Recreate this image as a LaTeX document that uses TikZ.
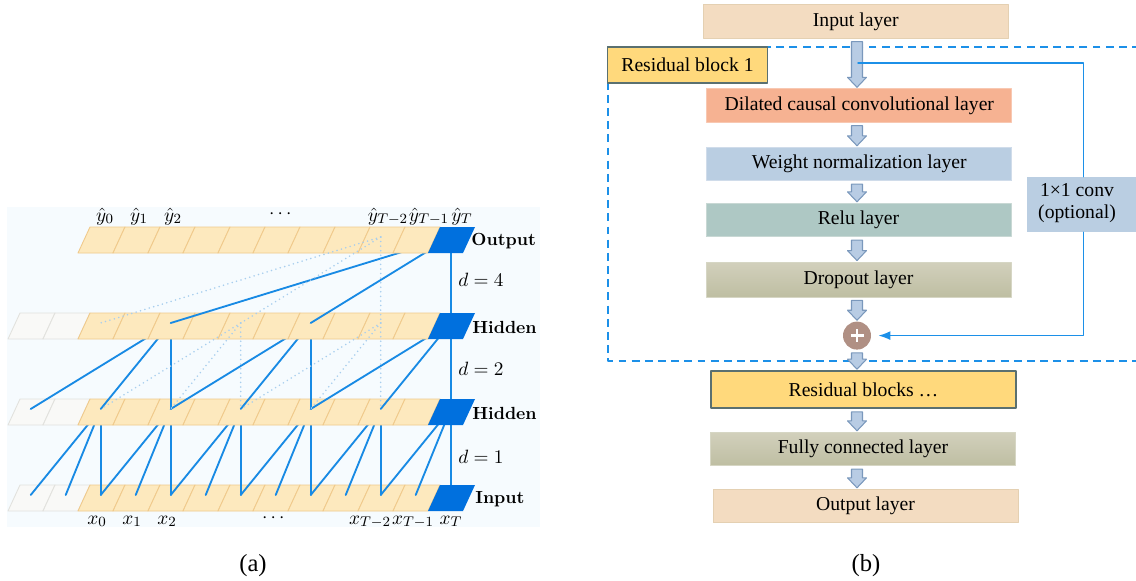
\documentclass[tikz,border=0pt]{standalone}
\usepackage{amsmath}
\usepackage{fontspec}
\usepackage{tikz}
\usepackage{xcolor}
\usetikzlibrary{arrows.meta,positioning,calc}

\newfontfamily\timesfont{Liberation Serif}
\newcommand{\layerfont}{\timesfont\fontsize{11.2}{12.6}\selectfont}

\definecolor{panelbg}{RGB}{246,251,254}
\definecolor{cellfill}{RGB}{253,233,190}
\definecolor{celledge}{RGB}{240,202,140}
\definecolor{padfill}{RGB}{249,249,247}
\definecolor{padedge}{RGB}{226,226,222}
\definecolor{lastcell}{RGB}{0,112,222}
\definecolor{linkblue}{RGB}{24,138,228}
\definecolor{dotblue}{RGB}{168,206,238}
\definecolor{tanfill}{RGB}{243,220,193}
\definecolor{tanedge}{RGB}{228,208,178}
\definecolor{salmonfill}{RGB}{246,178,146}
\definecolor{salmonedge}{RGB}{248,200,178}
\definecolor{steelfill}{RGB}{186,206,226}
\definecolor{steeledge}{RGB}{208,220,234}
\definecolor{sagefill}{RGB}{174,200,196}
\definecolor{sageedge}{RGB}{200,216,212}
\definecolor{khakitop}{RGB}{210,208,188}
\definecolor{khakibot}{RGB}{190,190,162}
\definecolor{khakiedge}{RGB}{214,214,196}
\definecolor{blockyellow}{RGB}{255,217,124}
\definecolor{blockedge}{RGB}{90,112,112}
\definecolor{arrowfill}{RGB}{184,204,228}
\definecolor{arrowedge}{RGB}{122,152,188}
\definecolor{addfill}{RGB}{176,144,132}
\definecolor{skipblue}{RGB}{28,144,232}

% one strip of slanted cells, #1 = top y, #2 = 1 for two padding cells
\newcommand{\tcnrow}[2]{%
  \ifnum#2=1
    \foreach \k in {-2,-1}
      \draw[padcell] ({78+35*\k},{#1+26}) -- ++(35,0) -- ++(12,-26) -- ++(-35,0) -- cycle;
  \fi
  \foreach \k in {0,...,9}
    \draw[datacell] ({78+35*\k},{#1+26}) -- ++(35,0) -- ++(12,-26) -- ++(-35,0) -- cycle;
}

% hollow block arrow between two stacked layers
\newcommand{\fatarrow}[2]{%
  \draw[fatarrow] ($(plus |- #1.south)+(-5.5,3)$) -- ($(plus |- #2.north)+(-5.5,-11)$)
    -- ($(plus |- #2.north)+(-9.5,-11)$) -- ($(plus |- #2.north)+(0,-1)$)
    -- ($(plus |- #2.north)+(9.5,-11)$) -- ($(plus |- #2.north)+(5.5,-11)$)
    -- ($(plus |- #1.south)+(5.5,3)$) -- cycle;
}

\begin{document}
\begin{tikzpicture}[x=0.02cm, y=-0.02cm, >=Latex, line cap=round, line join=round,
  datacell/.style={fill=cellfill, draw=celledge, line width=0.5pt},
  padcell/.style={fill=padfill, draw=padedge, line width=0.5pt},
  link/.style={draw=linkblue, line width=1.05pt},
  faintlink/.style={draw=dotblue, line width=1pt, dash pattern=on 0pt off 2.6pt},
  rowlabel/.style={anchor=west, inner sep=0pt, font=\bfseries},
  steplabel/.style={inner sep=0pt, font=\fontsize{10.5}{12}\selectfont},
  seqlabel/.style={anchor=base, inner sep=0pt, font=\fontsize{11}{13}\selectfont},
  layer/.style={minimum width=6.1cm, minimum height=0.67cm, inner sep=0pt, line width=0.5pt, font=\layerfont},
  blockbox/.style={fill=blockyellow, draw=blockedge, line width=0.9pt, inner sep=0pt, font=\layerfont},
  fatarrow/.style={fill=arrowfill, draw=arrowedge, line width=0.6pt},
  skip/.style={draw=skipblue, line width=0.85pt},
  groupbox/.style={draw=skipblue, line width=1.1pt, dash pattern=on 4.5pt off 3pt, line cap=butt},
  caption/.style={font=\timesfont\fontsize{14}{16}\selectfont}]
  \useasboundingbox (0,0) rectangle (1136,581);

  % ---------- (a) dilated causal convolution ----------
  \fill[panelbg] (7,207) rectangle (540,527);

  \foreach \row/\yt in {inp/485, hidb/399, hida/313, outp/227}
    \foreach \k in {-2,...,10}
      \coordinate (\row\k) at ({100.7+35*\k},{\yt+10});

  \tcnrow{485}{1}
  % d = 1
  \foreach \k in {0,2,...,10}
    \foreach \j in {0,1,2}{
      \pgfmathtruncatemacro\t{\k-\j}
      \draw[link] (hidb\k) -- (inp\t);
    }

  \tcnrow{399}{1}
  % d = 2
  \foreach \k in {2,6,10}
    \foreach \j in {0,2,4}{
      \pgfmathtruncatemacro\t{\k-\j}
      \draw[link] (hida\k) -- (hidb\t);
    }

  \tcnrow{313}{1}
  \foreach \k in {4,8}
    \foreach \j in {0,2,4}{
      \pgfmathtruncatemacro\t{\k-\j}
      \draw[faintlink] (hida\k) -- (hidb\t);
    }
  % d = 4
  \foreach \t in {2,6,10}
    \draw[link] (outp10) -- (hida\t);

  \tcnrow{227}{0}
  \foreach \t in {0,4,8}
    \draw[faintlink] (outp8) -- (hida\t);

  % last time step
  \foreach \yt in {485,399,313,227}
    \fill[lastcell] (428,{\yt+26}) -- ++(35,0) -- ++(12,-26) -- ++(-35,0) -- cycle;

  \node[rowlabel] (lbl-outp) at (471,241) {Output};
  \node[rowlabel] (lbl-hida) at (472,327) {Hidden};
  \node[rowlabel] (lbl-hidb) at (472,413) {Hidden};
  \node[rowlabel] (lbl-inp) at (475,499) {Input};

  \node[steplabel] (d4) at (481,280) {$d=4$};
  \node[steplabel] (d2) at (481,369) {$d=2$};
  \node[steplabel] (d1) at (481,457) {$d=1$};

  \node[seqlabel] (y0) at (105,221) {$\hat{y}_0$};
  \node[seqlabel] (y1) at (139,221) {$\hat{y}_1$};
  \node[seqlabel] (y2) at (173,221) {$\hat{y}_2$};
  \node[seqlabel] (ydots) at (282,218) {$\cdots$};
  \node[seqlabel] (yT2) at (388,221) {$\hat{y}_{T-2}$};
  \node[seqlabel] (yT1) at (429,221) {$\hat{y}_{T-1}$};
  \node[seqlabel] (yT) at (462,221) {$\hat{y}_T$};

  \node[seqlabel] (x0) at (97,524) {$x_0$};
  \node[seqlabel] (x1) at (132,524) {$x_1$};
  \node[seqlabel] (x2) at (167,524) {$x_2$};
  \node[seqlabel] (xdots) at (275,522) {$\cdots$};
  \node[seqlabel] (xT2) at (370,524) {$x_{T-2}$};
  \node[seqlabel] (xT1) at (413,524) {$x_{T-1}$};
  \node[seqlabel] (xT) at (451,524) {$x_T$};

  \node[caption] (cap-a) at (253,566) {(a)};

  % ---------- (b) residual block stack ----------
  \draw[groupbox] (1140,47) -- (608,47) -- (608,361) -- (1140,361);

  \node[layer, fill=tanfill, draw=tanedge] (input) at (855.8,21.5) {Input layer};
  \node[blockbox, minimum width=3.2cm, minimum height=0.72cm] (res1) at (687.5,65) {Residual block 1};
  \node[layer, fill=salmonfill, draw=salmonedge] (dilated) at (859.3,105.5) {Dilated causal convolutional layer};
  \node[layer, fill=steelfill, draw=steeledge] (weight) at (859.3,164) {Weight normalization layer};
  \node[layer, fill=sagefill, draw=sageedge] (relu) at (858.5,220) {Relu layer};
  \node[layer, top color=khakitop, bottom color=khakibot, draw=khakiedge, minimum height=0.7cm] (dropout) at (858.5,279.5) {Dropout layer};
  \node[circle, fill=addfill, minimum size=0.56cm, inner sep=0pt] (plus) at (857,335.6) {};
  \draw[white, line width=1.4pt, line cap=butt] ($(plus)+(-6.5,0)$) -- ($(plus)+(6.5,0)$)
    ($(plus)+(0,-6.5)$) -- ($(plus)+(0,6.5)$);
  \node[fill=steelfill, minimum width=2.26cm, minimum height=1.1cm, inner sep=0pt] (conv) at (1083.5,204.5) {};
  \node[font=\timesfont\fontsize{11.2}{12.6}\selectfont, align=center, inner sep=0pt] (convtext) at (1077,203) {1×1 conv\\(optional)};

  \node[blockbox, minimum width=6.1cm, minimum height=0.74cm] (resn) at (863.5,389.5) {Residual blocks …};
  \node[layer, top color=khakitop, bottom color=khakibot, draw=khakiedge] (dense) at (863,449) {Fully connected layer};
  \node[layer, fill=tanfill, draw=tanedge] (output) at (865.5,506) {Output layer};

  \fatarrow{input}{dilated}
  \fatarrow{dilated}{weight}
  \fatarrow{weight}{relu}
  \fatarrow{relu}{dropout}
  \fatarrow{dropout}{plus}
  \fatarrow{plus}{resn}
  \fatarrow{resn}{dense}
  \fatarrow{dense}{output}

  % shortcut path
  \coordinate (tap) at (858,63);
  \draw[skip] (tap) -| (conv.north);
  \draw[skip, ->, shorten >=4pt] (conv.south) |- (plus.east);

  \node[caption] (cap-b) at (866,566) {(b)};
\end{tikzpicture}
\end{document}
